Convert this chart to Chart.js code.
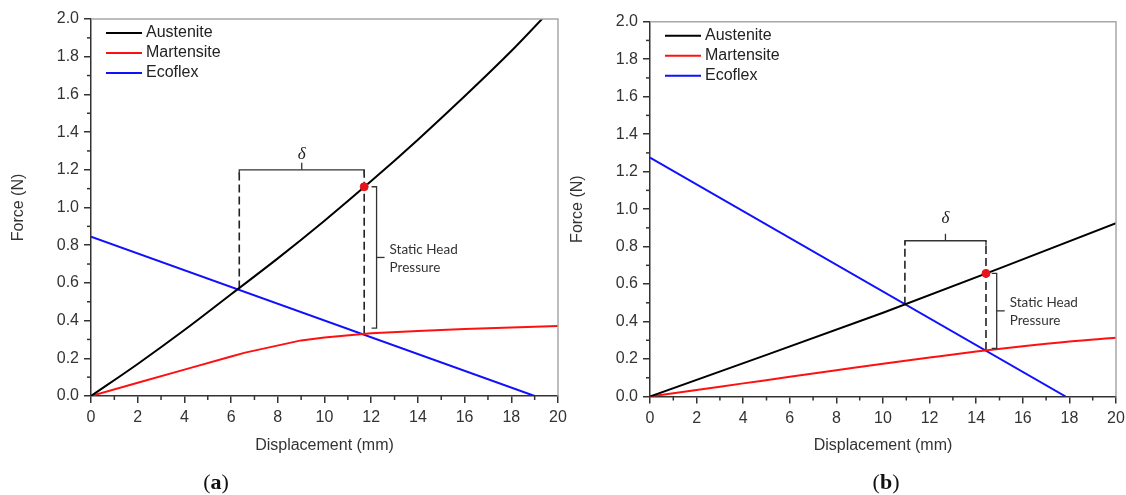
<!DOCTYPE html>
<html>
<head>
<meta charset="utf-8">
<script src="https://cdn.jsdelivr.net/npm/chart.js@4.4.1/dist/chart.umd.min.js"></script>
<style>
	html, body { margin: 0; padding: 0; background: #fff; }
	#wrap { position: relative; width: 1126px; height: 495px; overflow: hidden; background: #fff; }
	canvas { position: absolute; top: 0; }
	#chartA { left: 0; }
	#chartB { left: 563px; }
	.cap { position: absolute; top: 482px; transform: translate(-50%, -50%);
		font-family: "Liberation Serif", "DejaVu Serif", serif; font-size: 22px; color: #111; }
</style>
</head>
<body>
<div id="wrap">
	<canvas id="chartA" width="580" height="495" style="width:580px;height:495px"></canvas>
	<canvas id="chartB" width="563" height="495" style="width:563px;height:495px"></canvas>
	<div class="cap" style="left:216px">(<b>a</b>)</div>
	<div class="cap" style="left:886px">(<b>b</b>)</div>
</div>
<script>
// 目盛り
var xTicks = [0, 2, 4, 6, 8, 10, 12, 14, 16, 18, 20];
var yTicks = [0, 0.2, 0.4, 0.6, 0.8, 1.0, 1.2, 1.4, 1.6, 1.8, 2.0];
var seriesNames = ['Austenite', 'Martensite', 'Ecoflex'];

// (a) データ
var austeniteAx = [0, 2, 4, 6, 8, 10, 12, 14, 16, 18, 20];
var austeniteAy = [0, 0.17, 0.35, 0.54, 0.73, 0.93, 1.14, 1.36, 1.59, 1.83, 2.09];
var martensiteAx = [0, 2, 4, 6, 6.6, 9, 10, 12, 14, 16, 18, 20];
var martensiteAy = [0, 0.07, 0.14, 0.21, 0.23, 0.295, 0.31, 0.333, 0.345, 0.355, 0.363, 0.372];
var ecoflexAx = [0, 19.0];
var ecoflexAy = [0.845, 0];

// (b) データ
var austeniteBx = [0, 5, 10, 15, 20];
var austeniteBy = [0, 0.222, 0.447, 0.684, 0.925];
var martensiteBx = [0, 2, 4, 6, 8, 10, 12, 14, 16, 18, 20];
var martensiteBy = [0, 0.035, 0.07, 0.105, 0.14, 0.175, 0.208, 0.24, 0.268, 0.293, 0.313];
var ecoflexBx = [0, 17.84];
var ecoflexBy = [1.275, 0];

// 注記 (δ: 左x, 右x, 高さ / 破線の下端 / 赤点 / Static Head: x, 上, 下)
var deltaA = [6.35, 11.7, 1.2];
var dashEndA = [0.57, 0.33];
var dotA = [11.7, 1.11];
var headA = [12.23, 1.11, 0.36];

var deltaB = [10.94, 14.42, 0.831];
var dashEndB = [0.49, 0.248];
var dotB = [14.42, 0.657];
var headB = [14.88, 0.657, 0.257];

Chart.defaults.font.family = '"Liberation Sans", Arial, sans-serif';
Chart.defaults.color = '#333';

function zip(xs, ys) {
	return xs.map(function(x, i) { return { x: x, y: ys[i] }; });
}

function line(ctx, x1, y1, x2, y2) {
	ctx.beginPath();
	ctx.moveTo(x1, y1);
	ctx.lineTo(x2, y2);
	ctx.stroke();
}

// 枠・補助目盛り・凡例・ブラケット
function extras(delta, dot, head, deltaGap) {
	return {
		id: 'extras',
		afterDatasetsDraw: function(chart) {
			var ctx = chart.ctx;
			var sx = chart.scales.x, sy = chart.scales.y;
			ctx.save();
			ctx.strokeStyle = '#333';
			ctx.lineWidth = 1.3;

			// δ ブラケット
			var p1 = sx.getPixelForValue(delta[0]);
			var p2 = sx.getPixelForValue(delta[1]);
			var pm = (p1 + p2) / 2;
			var py = sy.getPixelForValue(delta[2]);
			ctx.beginPath();
			ctx.moveTo(p1, py + 5);
			ctx.lineTo(p1, py);
			ctx.lineTo(p2, py);
			ctx.lineTo(p2, py + 5);
			ctx.stroke();
			line(ctx, pm, py, pm, py - 7);
			ctx.fillStyle = '#222';
			ctx.font = 'italic 17px "Liberation Serif", serif';
			ctx.textAlign = 'center';
			ctx.textBaseline = 'middle';
			ctx.fillText('δ', pm, py - deltaGap);

			// Static Head Pressure ブラケット
			var hx = sx.getPixelForValue(head[0]);
			var ht = sy.getPixelForValue(head[1]);
			var hb = sy.getPixelForValue(head[2]);
			var hm = (ht + hb) / 2;
			ctx.beginPath();
			ctx.moveTo(hx - 5, ht);
			ctx.lineTo(hx, ht);
			ctx.lineTo(hx, hb);
			ctx.lineTo(hx - 5, hb);
			ctx.stroke();
			line(ctx, hx, hm, hx + 8, hm);
			ctx.font = '13.5px Lato, "Open Sans", sans-serif';
			ctx.textAlign = 'left';
			ctx.fillStyle = '#333';
			ctx.fillText('Static Head', hx + 13, hm - 8);
			ctx.fillText('Pressure', hx + 13, hm + 10);
			ctx.restore();
		},
		afterDraw: function(chart) {
			var ctx = chart.ctx;
			var a = chart.chartArea;
			var sx = chart.scales.x, sy = chart.scales.y;
			ctx.save();
			// 上・右の枠
			ctx.strokeStyle = '#a8a8a8';
			ctx.lineWidth = 1.5;
			ctx.beginPath();
			ctx.moveTo(a.left, a.top);
			ctx.lineTo(a.right, a.top);
			ctx.lineTo(a.right, a.bottom);
			ctx.stroke();
			// 補助目盛り
			ctx.strokeStyle = '#333';
			var i;
			for (i = 1; i < 20; i += 2) {
				var px = sx.getPixelForValue(i);
				line(ctx, px, a.bottom, px, a.bottom + 4);
			}
			for (i = 1; i < 20; i += 2) {
				var py = sy.getPixelForValue(i / 10);
				line(ctx, a.left - 4, py, a.left, py);
			}
			// 凡例
			ctx.font = '16px "Liberation Sans", Arial, sans-serif';
			ctx.textBaseline = 'middle';
			ctx.textAlign = 'left';
			ctx.lineWidth = 2;
			chart.data.datasets.forEach(function(ds, k) {
				if (!ds.inLegend) return;
				var y = a.top + 14 + k * 20;
				ctx.strokeStyle = ds.borderColor;
				line(ctx, a.left + 15, y, a.left + 51, y);
				ctx.fillStyle = '#222';
				ctx.fillText(ds.label, a.left + 55, y);
			});
			ctx.restore();
		}
	};
}

function drawGraph(id, d, box) {
	var ctx = document.getElementById(id).getContext('2d');
	var colors = ['#000000', '#ff1010', '#1010ff'];
	var datasets = [];
	for (var k = 0; k < 3; k++) {
		datasets.push({
			label: seriesNames[k],
			inLegend: true,
			data: zip(d.xs[k], d.ys[k]),
			borderColor: colors[k],
			borderWidth: 2,
			pointRadius: 0,
			cubicInterpolationMode: d.smooth[k] ? 'monotone' : 'default',
			tension: 0
		});
	}
	// 破線
	var dashStyle = { borderColor: '#222', borderWidth: 1.6, borderDash: [8, 4], pointRadius: 0 };
	datasets.push(Object.assign({ label: 'dashL', data: zip([d.delta[0], d.delta[0]], [d.dashEnd[0], d.delta[2]]) }, dashStyle));
	datasets.push(Object.assign({ label: 'dashR', data: zip([d.delta[1], d.delta[1]], [d.dashEnd[1], d.delta[2]]) }, dashStyle));
	// 赤点
	datasets.push({
		type: 'scatter', label: 'dot', order: -1,
		data: [{ x: d.dot[0], y: d.dot[1] }],
		pointRadius: 4, backgroundColor: '#e8141b', borderColor: '#e8141b'
	});

	var config = {
		type: 'line',
		data: { datasets: datasets },
		options: {
			responsive: false,
			animation: false,
			layout: { padding: { left: 0, right: box.padRight, top: box.top, bottom: 0 } },
			plugins: { legend: { display: false }, tooltip: { enabled: false } },
			scales: {
				x: {
					type: 'linear', min: 0, max: 20,
					afterBuildTicks: function(s) { s.ticks = xTicks.map(function(v) { return { value: v }; }); },
					ticks: { color: '#333', font: { size: 16 }, padding: 5, maxRotation: 0 },
					grid: { drawOnChartArea: false, tickLength: 7, color: '#333', lineWidth: 1.5 },
					border: { color: '#333', width: 1.5 },
					title: { display: true, text: 'Displacement (mm)', color: '#333', font: { size: 16 }, padding: { top: 0, bottom: 40 } },
					afterFit: function(s) { s.height = box.axisH; s.paddingLeft = 0; s.paddingRight = 0; }
				},
				y: {
					type: 'linear', min: 0, max: 2,
					afterBuildTicks: function(s) { s.ticks = yTicks.map(function(v) { return { value: v }; }); },
					ticks: { color: '#333', font: { size: 16 }, padding: 5, callback: function(v) { return v.toFixed(1); } },
					grid: { drawOnChartArea: false, tickLength: 7, color: '#333', lineWidth: 1.5 },
					border: { color: '#333', width: 1.5 },
					title: { display: true, text: 'Force (N)', color: '#333', font: { size: 16 }, padding: { top: box.titlePad, bottom: 0 } },
					afterFit: function(s) { s.width = box.axisW; s.paddingTop = 0; s.paddingBottom = 0; }
				}
			}
		},
		plugins: [extras(d.delta, d.dot, d.head, box.deltaGap)]
	};
	return new Chart(ctx, config);
}

drawGraph('chartA', {
	xs: [austeniteAx, martensiteAx, ecoflexAx],
	ys: [austeniteAy, martensiteAy, ecoflexAy],
	smooth: [true, false, false],
	delta: deltaA, dashEnd: dashEndA, dot: dotA, head: headA
}, { axisW: 91, padRight: 22, top: 19, axisH: 99, titlePad: 9.4, deltaGap: 15 });

drawGraph('chartB', {
	xs: [austeniteBx, martensiteBx, ecoflexBx],
	ys: [austeniteBy, martensiteBy, ecoflexBy],
	smooth: [false, true, false],
	delta: deltaB, dashEnd: dashEndB, dot: dotB, head: headB
}, { axisW: 87, padRight: 10, top: 21.7, axisH: 98.5, titlePad: 5.4, deltaGap: 22 });
</script>
</body>
</html>
